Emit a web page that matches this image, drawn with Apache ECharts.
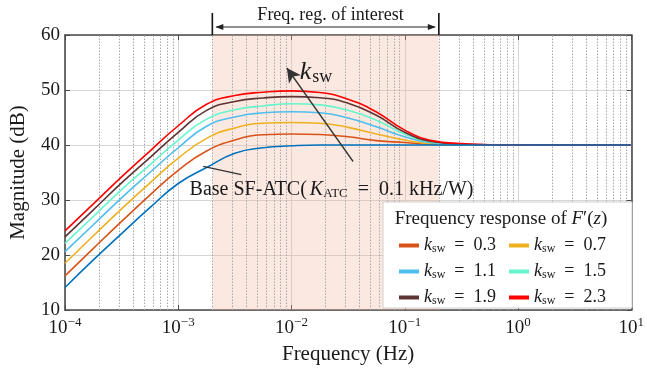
<!DOCTYPE html>
<html>
<head>
<meta charset="utf-8">
<script src="https://cdn.jsdelivr.net/npm/echarts@6/dist/echarts.min.js"></script>
<style>
  html, body { margin: 0; padding: 0; background: #fff; }
  #chart { width: 647px; height: 370px; }
</style>
</head>
<body>
<div id="chart"></div>
<script>
// Sample frequencies (Hz), quarter-decade steps shared by all curves
const FREQ = [1e-4, 1.78e-4, 3.16e-4, 5.62e-4, 1e-3, 1.78e-3, 3.16e-3, 5.62e-3, 1e-2, 1.78e-2, 3.16e-2, 5.62e-2, 0.1, 0.178, 0.316, 0.562, 1, 1.78, 3.16, 5.62, 10];

// Magnitude (dB) of the base SF-ATC loop
const BASE = [14.1, 19.1, 23.9, 28.6, 33.0, 35.9, 38.5, 39.5, 39.85, 40.0, 40.0, 40.0, 40.0, 40.0, 40.0, 40.0, 40.0, 40.0, 40.0, 40.0, 40.0];

// Magnitude (dB) of F'(z) for each k_sw
const K_03 = [16.2, 21.2, 26.1, 30.9, 35.4, 38.9, 40.9, 41.85, 42.0, 41.9, 41.5, 40.8, 40.45, 40.1, 40.02, 40.0, 40.0, 40.0, 40.0, 40.0, 40.0];
const K_07 = [18.5, 23.5, 28.4, 33.1, 37.6, 41.2, 43.1, 43.95, 44.1, 43.95, 43.2, 42.0, 40.9, 40.2, 40.05, 40.0, 40.0, 40.0, 40.0, 40.0, 40.0];
const K_11 = [20.6, 25.5, 30.4, 35.0, 39.5, 43.4, 45.1, 45.85, 46.05, 45.85, 44.9, 43.3, 41.5, 40.35, 40.08, 40.02, 40.0, 40.0, 40.0, 40.0, 40.0];
const K_15 = [22.1, 27.0, 31.9, 36.4, 40.9, 44.7, 46.4, 47.1, 47.5, 47.3, 46.3, 44.5, 42.0, 40.5, 40.12, 40.03, 40.0, 40.0, 40.0, 40.0, 40.0];
const K_19 = [23.3, 28.2, 33.1, 37.7, 42.3, 46.3, 47.9, 48.55, 48.8, 48.6, 47.6, 45.4, 42.3, 40.6, 40.18, 40.04, 40.0, 40.0, 40.0, 40.0, 40.0];
const K_23 = [24.4, 29.3, 34.2, 38.9, 43.5, 47.4, 49.0, 49.6, 49.85, 49.55, 48.3, 46.0, 42.7, 40.75, 40.25, 40.05, 40.02, 40.0, 40.0, 40.0, 40.0];

const K_LABELS = ['0.3', '0.7', '1.1', '1.5', '1.9', '2.3'];
const K_VALUES = [K_03, K_07, K_11, K_15, K_19, K_23];
const K_COLORS = ['#D95319', '#EDB120', '#4DBEEE', '#66F5CC', '#5E3434', '#FF0000'];
const BASE_COLOR = '#0072BD';

// Axis ranges and ticks
const X_MIN = 1e-4, X_MAX = 10;
const Y_MIN = 10, Y_MAX = 60, Y_STEP = 10;
// Minor (2..9 x decade) vertical grid positions
const MINOR_X = [];
for (let e = -4; e <= 0; e++) {
  for (let m = 2; m <= 9; m++) MINOR_X.push(+(m * Math.pow(10, e)).toPrecision(3));
}
// Frequency region of interest
const REGION = [2e-3, 0.2];

const FONT = 'Liberation Serif';
const AXIS_COLOR = '#4a4a4a';
const TEXT_COLOR = '#1a1a1a';

const chart = echarts.init(document.getElementById('chart'), null, { renderer: 'canvas' });

function zip(ys) { return FREQ.map((f, i) => [f, ys[i]]); }

const curveSeries = K_VALUES.map((ys, i) => ({
  name: K_LABELS[i],
  type: 'line',
  xAxisIndex: 0, yAxisIndex: 0,
  data: zip(ys),
  smooth: 0.5,
  showSymbol: false,
  symbol: 'none',
  z: 3 + i * 0.01,
  lineStyle: { color: K_COLORS[i], width: 1.6 },
  itemStyle: { color: K_COLORS[i] },
  emphasis: { disabled: true },
  silent: true
}));

const legendRich = {
  k: { fontFamily: FONT, fontStyle: 'italic', fontSize: 18, color: TEXT_COLOR, lineHeight: 16, verticalAlign: 'middle' },
  s: { fontFamily: FONT, fontSize: 12, color: TEXT_COLOR, lineHeight: 16, padding: [7, 0, 0, 0], verticalAlign: 'middle' },
  t: { fontFamily: FONT, fontSize: 18, color: TEXT_COLOR, lineHeight: 16, verticalAlign: 'middle' }
};
const legendFmt = name => '{k|k}{s|sw}{t|  =  ' + name + '}';

const tickLabelRich = {
  b: { fontFamily: FONT, fontSize: 19, color: TEXT_COLOR, lineHeight: 22, verticalAlign: 'bottom' },
  e: { fontFamily: FONT, fontSize: 13, color: TEXT_COLOR, lineHeight: 22, verticalAlign: 'top' }
};

const option = {
  animation: false,
  backgroundColor: '#ffffff',
  textStyle: { fontFamily: FONT },
  grid: { left: 62, right: 13, top: 35, bottom: 59 },
  xAxis: [
    {
      type: 'log', logBase: 10, min: X_MIN, max: X_MAX,
      axisLine: { show: true, lineStyle: { color: AXIS_COLOR, width: 1.6 } },
      axisTick: { show: true, inside: true, length: 5, lineStyle: { color: AXIS_COLOR, width: 1 } },
      axisLabel: {
        margin: 6,
        formatter: v => '{b|10}{e|' + String(Math.round(Math.log10(v))).replace('-', '\u2212') + '}',
        rich: tickLabelRich
      },
      splitLine: { show: true, lineStyle: { color: '#d6d6d6', width: 1 } },
      name: 'Frequency (Hz)', nameLocation: 'middle', nameGap: 34,
      nameTextStyle: { fontFamily: FONT, fontSize: 21, color: TEXT_COLOR }
    },
    {
      type: 'log', logBase: 10, min: X_MIN, max: X_MAX, position: 'top',
      axisLine: { show: true, lineStyle: { color: AXIS_COLOR, width: 1.6 } },
      axisTick: { show: true, inside: true, length: 5, lineStyle: { color: AXIS_COLOR, width: 1 } },
      axisLabel: { show: false },
      splitLine: { show: false }
    }
  ],
  yAxis: [
    {
      type: 'value', min: Y_MIN, max: Y_MAX, interval: Y_STEP,
      axisLine: { show: true, lineStyle: { color: AXIS_COLOR, width: 1.6 } },
      axisTick: { show: true, inside: true, length: 5, lineStyle: { color: AXIS_COLOR, width: 1 } },
      axisLabel: { margin: 5, fontFamily: FONT, fontSize: 19, color: TEXT_COLOR },
      splitLine: { show: true, lineStyle: { color: '#d6d6d6', width: 1 } },
      name: 'Magnitude (dB)', nameLocation: 'middle', nameGap: 36,
      nameTextStyle: { fontFamily: FONT, fontSize: 21, color: TEXT_COLOR }
    },
    {
      type: 'value', min: Y_MIN, max: Y_MAX, interval: Y_STEP, position: 'right',
      axisLine: { show: true, lineStyle: { color: AXIS_COLOR, width: 1.6 } },
      axisTick: { show: true, inside: true, length: 5, lineStyle: { color: AXIS_COLOR, width: 1 } },
      axisLabel: { show: false },
      splitLine: { show: false }
    }
  ],
  legend: [
    {
      orient: 'vertical', left: 399, top: 236, padding: 0,
      itemWidth: 20, itemHeight: 4, itemGap: 7, icon: 'rect', z: 20,
      data: ['0.3', '1.1', '1.9'],
      formatter: legendFmt,
      textStyle: { rich: legendRich },
      selectedMode: false
    },
    {
      orient: 'vertical', left: 509, top: 236, padding: 0,
      itemWidth: 20, itemHeight: 4, itemGap: 7, icon: 'rect', z: 20,
      data: ['0.7', '1.5', '2.3'],
      formatter: legendFmt,
      textStyle: { rich: legendRich },
      selectedMode: false
    }
  ],
  series: [
    // dotted minor grid lines
    {
      type: 'lines', coordinateSystem: 'cartesian2d', z: 1, silent: true,
      polyline: false, symbol: 'none',
      lineStyle: { color: '#a8a8a8', width: 1, type: [1.5, 1.5], opacity: 1 },
      emphasis: { disabled: true },
      data: MINOR_X.map(v => ({ coords: [[v, Y_MIN], [v, Y_MAX]] }))
    },
    // shaded frequency region of interest
    {
      type: 'line', data: [], z: 2, silent: true,
      markArea: {
        silent: true,
        itemStyle: { color: 'rgba(242,182,155,0.3)' },
        emphasis: { disabled: true },
        data: [[{ xAxis: REGION[0] }, { xAxis: REGION[1] }]]
      }
    },
    ...curveSeries,
    {
      name: 'Base', type: 'line', data: zip(BASE),
      smooth: 0.5, showSymbol: false, symbol: 'none', z: 4,
      lineStyle: { color: BASE_COLOR, width: 1.6 }, itemStyle: { color: BASE_COLOR },
      emphasis: { disabled: true }, silent: true
    },
    // annotation arrows
    {
      type: 'line', data: [], z: 6, silent: true,
      markLine: {
        silent: true, animation: false,
        label: { show: false },
        emphasis: { disabled: true },
        data: [
          [
            { coord: [0.035, 37.0], symbol: 'none', lineStyle: { color: '#333', width: 1.3, type: 'solid' } },
            { coord: [0.0091, 54.0], symbol: 'arrow', symbolSize: [11, 14] }
          ],
          [
            { coord: [1.66e-3, 36.1], symbol: 'none', lineStyle: { color: '#333', width: 1.3, type: 'solid' } },
            { coord: [3.6e-3, 34.6], symbol: 'none' }
          ]
        ]
      }
    }
  ]
};

chart.setOption(option);

// Annotations placed from data coordinates
const P = (x, y) => chart.convertToPixel({ xAxisIndex: 0, yAxisIndex: 0 }, [x, y]);
const xa = P(REGION[0], Y_MAX)[0];
const xb = P(REGION[1], Y_MAX)[0];
const plotTop = P(REGION[0], Y_MAX)[1];
const arrowY = plotTop - 8;
const kPos = P(0.0118, 53.2);
const basePos = P(1.26e-3, 31.9);

chart.setOption({
  graphic: [
    // region of interest bracket
    { type: 'line', z: 30, shape: { x1: xa, y1: plotTop - 22, x2: xa, y2: plotTop }, style: { stroke: '#111', lineWidth: 1.6 } },
    { type: 'line', z: 30, shape: { x1: xb, y1: plotTop - 22, x2: xb, y2: plotTop }, style: { stroke: '#111', lineWidth: 1.6 } },
    { type: 'line', z: 30, shape: { x1: xa + 4, y1: arrowY, x2: xb - 4, y2: arrowY }, style: { stroke: '#222', lineWidth: 1 } },
    { type: 'polygon', z: 30, shape: { points: [[xa + 3, arrowY], [xa + 11, arrowY - 3], [xa + 11, arrowY + 3]] }, style: { fill: '#222' } },
    { type: 'polygon', z: 30, shape: { points: [[xb - 3, arrowY], [xb - 11, arrowY - 3], [xb - 11, arrowY + 3]] }, style: { fill: '#222' } },
    {
      type: 'text', z: 30, x: (xa + xb) / 2 + 5, y: plotTop - 20,
      style: { text: 'Freq. reg. of interest', fontFamily: FONT, fontSize: 18, fill: TEXT_COLOR, align: 'center', verticalAlign: 'middle' }
    },
    // k_sw direction label
    {
      type: 'text', z: 30, x: kPos[0], y: kPos[1],
      style: {
        text: '{k|k}{s|sw}', align: 'left', verticalAlign: 'middle',
        rich: {
          k: { fontFamily: FONT, fontStyle: 'italic', fontSize: 26, fill: TEXT_COLOR, lineHeight: 26, verticalAlign: 'middle' },
          s: { fontFamily: FONT, fontSize: 18, fill: TEXT_COLOR, lineHeight: 26, padding: [9, 0, 0, 1], verticalAlign: 'middle' }
        }
      }
    },
    // base loop label
    {
      type: 'text', z: 30, x: basePos[0], y: basePos[1],
      style: {
        text: '{t|Base SF-ATC(}{k|K}{s|ATC}{t|  =  0.1 kHz/W)}', align: 'left', verticalAlign: 'middle',
        rich: {
          t: { fontFamily: FONT, fontSize: 20, fill: TEXT_COLOR, lineHeight: 22, verticalAlign: 'middle' },
          k: { fontFamily: FONT, fontStyle: 'italic', fontSize: 20, fill: TEXT_COLOR, lineHeight: 22, verticalAlign: 'middle', padding: [0, 0, 0, 3] },
          s: { fontFamily: FONT, fontSize: 13, fill: TEXT_COLOR, lineHeight: 22, padding: [8, 0, 0, 0], verticalAlign: 'middle' }
        }
      }
    },
    // legend frame and title
    { type: 'rect', z: 10, shape: { x: 383, y: 202, width: 249, height: 106 }, style: { fill: '#ffffff', stroke: '#cfcfcf', lineWidth: 1 } },
    {
      type: 'text', z: 21, x: 501, y: 219,
      style: {
        text: '{t|Frequency response of }{f|F}{t|\u2032(}{f|z}{t|)}', align: 'center', verticalAlign: 'middle',
        rich: {
          t: { fontFamily: FONT, fontSize: 19, fill: TEXT_COLOR, lineHeight: 20 },
          f: { fontFamily: FONT, fontStyle: 'italic', fontSize: 19, fill: TEXT_COLOR, lineHeight: 20 }
        }
      }
    }
  ]
});
</script>
</body>
</html>
